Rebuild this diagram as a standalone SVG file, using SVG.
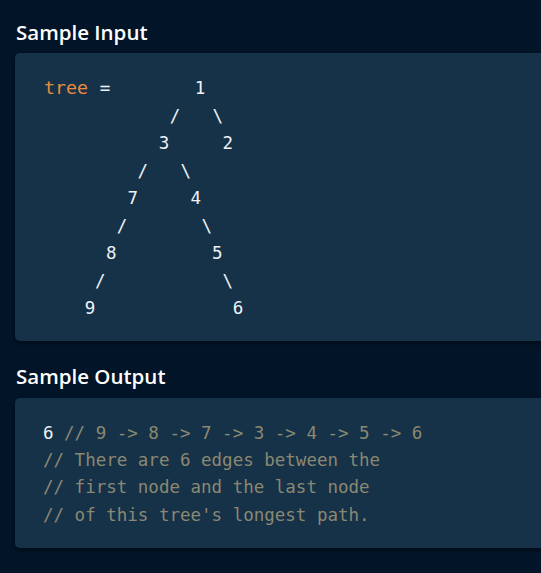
<svg xmlns="http://www.w3.org/2000/svg" width="541" height="573" viewBox="0 0 541 573">
<defs>
<style>
.title{font-family:"Open Sans","Noto Sans",sans-serif;font-size:20.5px;font-weight:600;fill:#ffffff}
.code{font-family:"DejaVu Sans Mono","Liberation Mono",monospace;font-size:17.5px;fill:#eef2f5}
.tr{font-family:"DejaVu Sans Mono","Liberation Mono",monospace;font-size:17.5px;fill:#eef2f5;text-anchor:middle}
.cm{fill:#8b8871}
.kw{fill:#ea8a3d}
</style>
<filter id="sh" x="-5%" y="-5%" width="110%" height="120%">
<feDropShadow dx="0" dy="2" stdDeviation="2" flood-color="#000000" flood-opacity="0.5"/>
</filter>
</defs>
<rect x="0" y="0" width="541" height="573" fill="#011428"/>
<g id="input">
<text class="title" x="16" y="40">Sample Input</text>
<rect x="15" y="53" width="560" height="288" rx="5" fill="#183149" filter="url(#sh)"/>
<text class="code kw" x="44" y="94" textLength="44" lengthAdjust="spacingAndGlyphs">tree</text>
<text class="tr" x="105" y="94">=</text>
<text class="tr" x="200" y="94">1</text>
<text class="tr" x="175" y="121.5">/</text>
<text class="tr" x="217.7" y="121.5">\</text>
<text class="tr" x="164" y="149">3</text>
<text class="tr" x="227.7" y="149">2</text>
<text class="tr" x="142.7" y="176.5">/</text>
<text class="tr" x="185.7" y="176.5">\</text>
<text class="tr" x="132.7" y="204">7</text>
<text class="tr" x="195.7" y="204">4</text>
<text class="tr" x="122" y="231.5">/</text>
<text class="tr" x="206.7" y="231.5">\</text>
<text class="tr" x="111.3" y="259">8</text>
<text class="tr" x="217.3" y="259">5</text>
<text class="tr" x="100.3" y="286.5">/</text>
<text class="tr" x="227.7" y="286.5">\</text>
<text class="tr" x="90" y="314">9</text>
<text class="tr" x="238" y="314">6</text>
</g>
<g id="output">
<text class="title" x="16" y="383.5">Sample Output</text>
<rect x="15" y="398" width="560" height="150" rx="5" fill="#183149" filter="url(#sh)"/>
<text class="code" x="43" y="438.5" xml:space="preserve">6<tspan class="cm"> // 9 -&gt; 8 -&gt; 7 -&gt; 3 -&gt; 4 -&gt; 5 -&gt; 6</tspan></text>
<text class="code cm" x="43" y="466" xml:space="preserve">// There are 6 edges between the</text>
<text class="code cm" x="43" y="493.3" xml:space="preserve">// first node and the last node</text>
<text class="code cm" x="43" y="520.7" xml:space="preserve">// of this tree's longest path.</text>
</g>
</svg>
